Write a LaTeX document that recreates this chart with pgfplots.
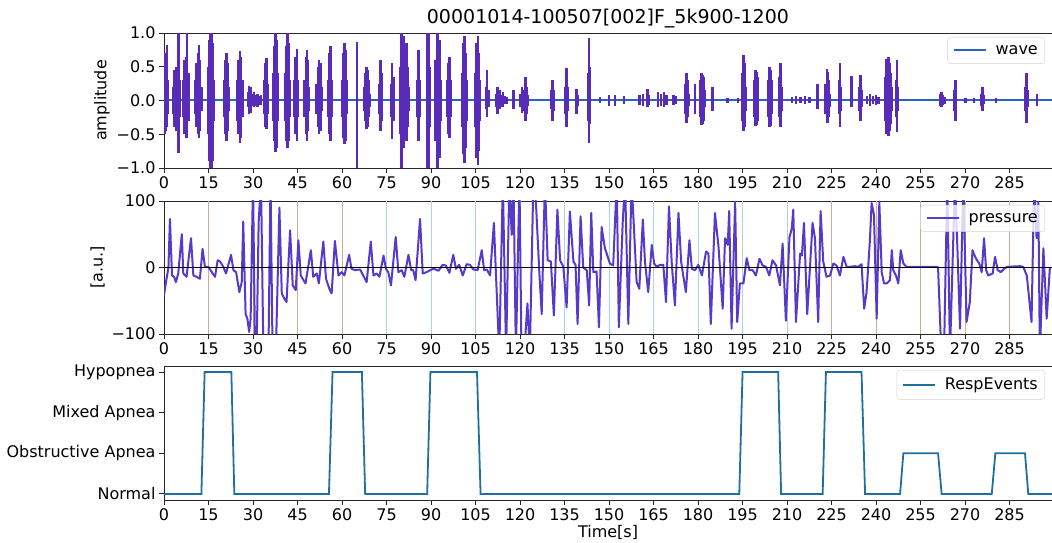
\documentclass[border=0pt]{standalone}
\usepackage{fontspec}
\setmainfont{DejaVu Sans}
\usepackage{pgfplots}
\pgfplotsset{compat=1.18}
\usepackage{pgfplotstable}

\definecolor{wavecol}{RGB}{88,44,184}
\definecolor{wavebase}{RGB}{40,100,200}
\definecolor{prescol}{RGB}{86,58,200}
\definecolor{evcol}{RGB}{32,112,158}
\definecolor{gridtan}{RGB}{208,172,150}
\definecolor{gridblue}{RGB}{165,212,236}
\definecolor{spine}{RGB}{40,40,40}

\newcommand{\fs}{\fontsize{16}{19}\selectfont}

% audio envelope: time, upper and lower swing of each stroke
\pgfplotstableread{
t hi lo
0.1 0.55 -0.30
0.4 0.70 -0.50
0.7 0.62 -0.45
1.0 0.82 -0.40
1.3 0.30 -0.20
3.2 0.20 -0.20
3.6 0.45 -0.40
4.0 0.50 -0.45
4.4 0.40 -0.35
4.9 1.00 -0.78
5.2 0.30 -0.25
6.6 0.30 -0.25
7.0 0.60 -0.50
7.4 0.65 -0.55
7.8 1.00 -0.55
8.2 0.40 -0.30
10.6 0.30 -0.20
11.0 0.55 -0.40
11.4 0.70 -0.50
11.8 0.82 -0.55
12.2 0.60 -0.45
12.6 0.20 -0.15
14.9 0.50 -0.50
15.3 0.90 -0.90
15.7 1.00 -1.00
16.1 1.00 -1.00
16.5 0.85 -0.90
16.9 0.30 -0.30
20.3 0.30 -0.25
20.7 0.60 -0.50
21.1 0.70 -0.60
21.5 0.55 -0.45
21.8 0.20 -0.15
24.8 0.30 -0.30
25.2 0.60 -0.50
25.6 0.73 -0.63
26.0 0.65 -0.55
26.4 0.30 -0.25
28.3 0.12 -0.10
28.7 0.22 -0.20
29.1 0.20 -0.18
29.4 0.10 -0.08
30.4 0.12 -0.10
30.9 0.08 -0.08
31.5 0.10 -0.10
32.2 0.06 -0.06
32.7 0.08 -0.06
33.8 0.30 -0.20
34.2 0.55 -0.40
34.6 0.63 -0.42
34.9 0.25 -0.20
36.8 0.40 -0.30
37.2 0.80 -0.60
37.6 1.00 -0.77
38.0 0.90 -0.70
38.4 0.40 -0.30
40.8 0.40 -0.30
41.2 0.80 -0.60
41.6 1.00 -0.70
42.0 0.85 -0.60
42.3 0.30 -0.25
44.0 0.30 -0.25
44.4 0.65 -0.50
44.8 0.77 -0.60
45.2 0.30 -0.25
47.4 0.30 -0.25
47.8 0.65 -0.50
48.2 0.75 -0.60
48.6 0.60 -0.45
48.9 0.20 -0.15
51.5 0.25 -0.20
51.9 0.50 -0.40
52.3 0.60 -0.50
52.7 0.55 -0.45
53.1 0.20 -0.15
55.4 0.30 -0.25
55.8 0.70 -0.50
56.2 0.80 -0.60
56.6 0.30 -0.25
60.0 0.30 -0.25
60.4 0.70 -0.55
60.8 0.85 -0.65
61.2 0.75 -0.60
61.6 0.30 -0.20
65.0 0.87 -1.00
67.5 0.20 -0.15
67.9 0.40 -0.30
68.3 0.50 -0.42
68.7 0.45 -0.40
69.1 0.30 -0.25
69.4 0.10 -0.10
72.5 0.25 -0.20
72.9 0.60 -0.45
73.3 0.40 -0.30
76.5 0.25 -0.25
76.9 0.55 -0.57
77.3 0.35 -0.30
79.8 0.50 -0.50
80.1 1.00 -1.00
80.5 0.70 -0.50
80.9 0.95 -0.70
81.3 0.60 -0.45
81.7 0.85 -0.60
82.1 0.50 -0.40
82.5 0.20 -0.15
85.4 0.30 -0.25
85.8 0.75 -0.60
86.2 0.30 -0.25
88.6 0.60 -0.60
88.9 1.00 -1.00
89.3 1.00 -1.00
89.6 0.50 -0.40
91.6 0.60 -0.60
92.0 1.00 -1.00
92.4 1.00 -1.00
92.8 0.90 -0.85
93.1 0.30 -0.30
95.4 0.30 -0.25
95.8 0.55 -0.50
96.2 0.65 -0.55
96.6 0.30 -0.25
100.4 0.40 -0.40
100.8 0.85 -0.80
101.2 0.95 -0.93
101.6 0.70 -0.70
101.9 0.30 -0.30
105.0 0.40 -0.40
105.4 0.85 -0.85
105.8 0.95 -0.95
106.2 0.70 -0.75
106.5 0.30 -0.30
108.5 0.20 -0.12
108.9 0.45 -0.25
109.3 0.15 -0.10
112.0 0.10 -0.10
112.5 0.20 -0.20
113.0 0.15 -0.12
113.6 0.08 -0.10
114.2 0.12 -0.10
114.8 0.06 -0.05
115.4 0.05 -0.05
117.7 0.15 -0.12
120.2 0.10 -0.10
120.7 0.20 -0.18
121.2 0.15 -0.15
121.8 0.35 -0.30
122.3 0.20 -0.20
122.7 0.08 -0.08
130.7 0.15 -0.12
131.0 0.30 -0.30
131.4 0.15 -0.15
135.2 0.20 -0.20
135.6 0.48 -0.40
136.0 0.20 -0.15
139.0 0.17 -0.20
139.3 0.08 -0.08
142.9 0.40 -0.30
143.2 0.93 -0.63
143.6 0.50 -0.35
147.0 0.05 -0.04
150.0 0.08 -0.08
152.0 0.08 -0.08
155.0 0.06 -0.05
160.2 0.08 -0.06
161.5 0.10 -0.08
163.0 0.17 -0.10
163.5 0.08 -0.06
166.5 0.12 -0.10
167.5 0.10 -0.08
168.5 0.13 -0.10
169.4 0.08 -0.06
171.8 0.08 -0.06
172.3 0.06 -0.05
175.8 0.25 -0.20
176.2 0.40 -0.33
176.6 0.30 -0.25
177.0 0.10 -0.08
179.0 0.25 -0.20
180.8 0.30 -0.25
181.2 0.40 -0.37
181.6 0.38 -0.35
182.0 0.35 -0.30
182.4 0.15 -0.10
184.8 0.20 -0.15
190.0 0.04 -0.03
193.4 0.04 -0.03
194.9 0.40 -0.30
195.3 0.67 -0.45
195.7 0.55 -0.40
196.0 0.20 -0.15
199.0 0.30 -0.25
199.4 0.45 -0.38
199.8 0.42 -0.36
200.2 0.35 -0.30
203.6 0.30 -0.25
204.0 0.50 -0.40
204.4 0.45 -0.38
204.8 0.30 -0.20
207.5 0.35 -0.25
207.8 0.55 -0.40
208.1 0.20 -0.15
211.7 0.05 -0.04
213.0 0.06 -0.05
214.5 0.05 -0.04
216.0 0.06 -0.05
217.5 0.05 -0.04
220.3 0.24 -0.12
223.0 0.25 -0.20
223.4 0.46 -0.33
223.8 0.42 -0.33
224.2 0.30 -0.25
224.5 0.10 -0.10
227.5 0.30 -0.20
227.9 0.55 -0.40
228.2 0.20 -0.15
231.8 0.37 -0.10
234.4 0.20 -0.15
234.7 0.38 -0.30
235.0 0.15 -0.10
237.0 0.06 -0.05
238.0 0.10 -0.08
239.0 0.06 -0.05
240.0 0.08 -0.06
240.8 0.05 -0.05
243.0 0.35 -0.30
243.4 0.62 -0.50
243.8 0.50 -0.45
244.2 0.65 -0.53
244.6 0.55 -0.45
245.0 0.40 -0.35
245.4 0.20 -0.15
246.8 0.30 -0.25
247.1 0.60 -0.47
247.4 0.20 -0.15
261.5 0.10 -0.08
262.0 0.13 -0.10
262.6 0.08 -0.06
263.1 0.05 -0.05
266.4 0.15 -0.15
266.7 0.30 -0.30
267.0 0.10 -0.10
270.1 0.04 -0.04
273.0 0.04 -0.04
275.6 0.10 -0.08
275.9 0.20 -0.15
276.2 0.08 -0.05
280.4 0.03 -0.03
290.4 0.20 -0.15
290.7 0.40 -0.33
291.0 0.15 -0.10
294.2 0.10 -0.08
}\wavedata

% airflow pressure, values beyond the axis range are clipped
\pgfplotstableread{
t p
0.0 -42
0.7 -21
1.5 0
2.0 73
2.7 -12
3.4 -14
4.0 -22
4.8 -9
6.0 50
6.5 -9
7.6 -14
9.1 44
9.9 -12
11.0 -14
12.1 -17
13.0 28
13.8 1
14.9 1
17.2 -14
18.1 11
18.9 9
20.0 1
20.9 -9
22.6 19
23.4 -4
24.3 -7
25.4 -37
26.2 -22
26.7 69
27.5 -70
28.1 -77
28.7 -97
29.2 -77
30.0 130
30.7 -130
31.2 -130
31.9 68
32.7 130
33.5 -130
35.2 -130
35.9 130
36.6 -130
37.7 -130
38.9 90
39.7 -39
40.6 -47
41.3 -52
42.5 56
43.4 -27
44.4 -34
45.3 41
46.1 -12
47.0 -19
47.7 -24
49.5 26
50.3 -14
51.5 -9
52.2 -24
53.7 39
54.6 -17
55.9 -34
56.5 -39
57.6 40
58.8 -12
59.9 -7
60.8 -12
62.4 19
63.2 -2
64.4 -4
66.1 -3
68.3 -22
69.7 39
70.6 -12
71.7 -9
72.6 -14
74.0 18
74.8 -2
75.6 -7
76.5 -27
78.1 46
79.0 -7
80.1 -4
81.0 -14
82.4 19
83.3 -4
84.0 -4
84.8 -19
86.3 73
87.2 -9
88.5 -7
90.2 -3
91.0 -2
92.5 -5
93.9 4
95.0 3
96.2 -8
97.5 19
98.4 -2
99.5 4
100.7 -12
102.0 5
103.1 4
104.3 -3
105.7 -4
107.1 26
107.9 -4
108.8 -3
109.9 -12
111.2 67
111.9 -12
113.0 -130
114.2 130
115.3 -130
116.4 130
117.2 49
117.8 130
118.6 -130
119.8 130
120.5 -130
121.4 -130
122.5 -54
123.3 -130
124.5 130
125.4 94
126.5 -7
127.3 -70
128.4 130
129.3 11
130.4 9
131.4 -72
132.6 87
133.5 11
134.6 1
135.7 -60
136.8 84
138.0 9
138.7 4
139.4 -85
140.4 77
141.3 0
142.5 -4
143.3 -57
144.0 82
144.7 -7
145.8 -6
146.6 -90
147.5 61
148.6 29
150.3 6
151.4 3
152.6 130
153.3 -90
154.6 67
155.4 130
156.5 -85
157.6 130
158.4 59
159.3 -22
160.2 -32
161.4 72
162.1 9
163.2 -37
164.4 34
165.2 6
166.1 1
167.2 4
168.3 4
169.2 -52
170.2 92
171.1 9
172.2 -57
173.4 82
174.3 9
175.0 -12
175.9 -37
177.1 41
177.9 -2
179.0 -4
180.1 4
181.3 -12
182.7 24
183.5 21
184.3 -85
185.7 82
186.9 31
188.3 -62
189.1 44
190.0 34
190.5 85
191.3 -92
192.5 99
193.2 -82
194.1 -24
195.3 -24
196.4 14
197.3 -4
198.4 -4
199.5 -12
200.7 13
201.8 3
202.9 1
204.0 -12
205.1 11
206.3 3
207.6 -27
208.5 36
209.6 -80
210.8 45
211.6 59
212.1 87
213.0 -82
214.4 21
215.0 18
215.7 67
216.8 -70
218.6 67
219.4 44
220.5 -82
221.3 85
222.2 9
223.3 -14
224.5 -12
225.6 6
226.7 3
227.8 -12
229.0 16
230.1 1
231.2 1
232.9 2
234.0 1
235.1 5
236.0 -62
236.8 -37
237.9 39
238.5 97
239.3 79
240.2 -77
241.1 99
241.9 -7
242.7 -24
243.6 -24
244.7 -19
245.3 26
245.8 -4
246.7 -12
247.5 -24
248.3 26
249.2 6
250.3 1
255.0 1
260.4 1
260.9 0
262.0 -130
262.9 -130
264.0 130
264.9 -130
266.0 39
266.6 130
267.4 31
268.3 -92
269.4 130
270.5 -82
271.6 -52
272.5 26
273.4 16
274.0 11
274.8 6
275.6 -7
276.4 44
277.1 -4
277.8 -12
279.3 -9
280.1 16
281.0 -4
282.0 -7
282.9 -3
284.1 1
288.6 2
289.6 1
290.8 -12
291.6 -47
292.4 -82
293.3 130
294.1 44
294.7 99
295.2 -130
296.4 29
297.5 -77
298.6 1
}\presdata

\pgfplotsset{
  panel/.style={
    scale only axis, width=888pt,
    xmin=0, xmax=299.3,
    xtick={0,15,...,285},
    axis line style={spine, line width=0.9pt},
    tick style={spine, line width=0.9pt},
    major tick length=5pt,
    tick align=outside,
    xtick pos=bottom, ytick pos=left,
    /pgf/number format/assume math mode=true,
    tick label style={font=\fs},
    label style={font=\fs},
    legend cell align=left,
    legend image code/.code={\draw[##1, line width=2pt] (0pt,0pt) -- (32pt,0pt);},
    legend style={font=\fs, draw=black!18, rounded corners=3pt,
      fill=white, fill opacity=0.8, text opacity=1,
      at={(1,1)}, anchor=north east, xshift=-7pt, yshift=-4pt,
      inner xsep=5pt, inner ysep=6pt,
      /tikz/every odd column/.append style={column sep=7pt}},
  },
}

\begin{document}
\begin{tikzpicture}
\path[use as bounding box] (0pt,0pt) rectangle (1052pt,543pt);

% sound amplitude
\begin{axis}[panel, at={(164pt,375pt)}, anchor=south west, height=135pt,
  ymin=-1, ymax=1, ytick={-1,-0.5,0,0.5,1},
  yticklabels={−1.0,−0.5,0.0,0.5,1.0},
  ylabel={amplitude},
  title={00001014-100507[002]F\_5k900-1200},
  title style={font=\fontsize{19}{23}\selectfont, yshift=-5pt}]
\addplot[wavebase, line width=2pt] coordinates {(0,0) (299.3,0)};
\addlegendentry{wave}
\addplot[wavecol, ycomb, line width=2.6pt, forget plot] table[x=t, y=hi] {\wavedata};
\addplot[wavecol, ycomb, line width=2.6pt, forget plot] table[x=t, y=lo] {\wavedata};
\end{axis}

% airflow pressure
\begin{axis}[panel, at={(164pt,209pt)}, anchor=south west, height=133pt,
  ymin=-100, ymax=100, ytick={-100,0,100},
  yticklabels={−100,0,100},
  ylabel={[a.u.]}]
\addplot[gridtan, ycomb, line width=0.8pt, forget plot] coordinates
  {(15,100) (30,100) (45,100) (60,100) (225,100) (240,100) (255,100) (270,100) (285,100)};
\addplot[gridtan, ycomb, line width=0.8pt, forget plot] coordinates
  {(15,-100) (30,-100) (45,-100) (60,-100) (225,-100) (240,-100) (255,-100) (270,-100) (285,-100)};
\addplot[gridblue, ycomb, line width=0.8pt, forget plot] coordinates
  {(75,100) (90,100) (105,100) (120,100) (135,100) (150,100) (165,100) (180,100) (195,100) (210,100)};
\addplot[gridblue, ycomb, line width=0.8pt, forget plot] coordinates
  {(75,-100) (90,-100) (105,-100) (120,-100) (135,-100) (150,-100) (165,-100) (180,-100) (195,-100) (210,-100)};
\addplot[prescol, line width=2pt, line join=round] table[x=t, y=p] {\presdata};
\addlegendentry{pressure}
\addplot[black, line width=1.4pt, forget plot] coordinates {(0,0) (299.3,0)};
\end{axis}

% scored respiratory events
\begin{axis}[panel, at={(164pt,43pt)}, anchor=south west, height=134pt,
  ymin=-0.15, ymax=3.15, ytick={0,1,2,3},
  yticklabels={Normal,Obstructive Apnea,Mixed Apnea,Hypopnea},
  xlabel={Time[s]}, xlabel style={yshift=2pt}]
\addplot[evcol, line width=1.8pt] coordinates {
  (0,0) (12.6,0) (13.7,3) (22.7,3) (23.7,0) (55.6,0) (56.8,3) (66.7,3) (67.8,0)
  (88.7,0) (89.8,3) (105.5,3) (106.7,0) (193.9,0) (195,3) (207,3) (208,0)
  (222,0) (223.1,3) (235.1,3) (236.3,0) (248.1,0) (249.2,1) (260.9,1) (262.1,0)
  (279,0) (280.2,1) (290.2,1) (291.3,0) (299.3,0)};
\addlegendentry{RespEvents}
\end{axis}
\end{tikzpicture}
\end{document}
